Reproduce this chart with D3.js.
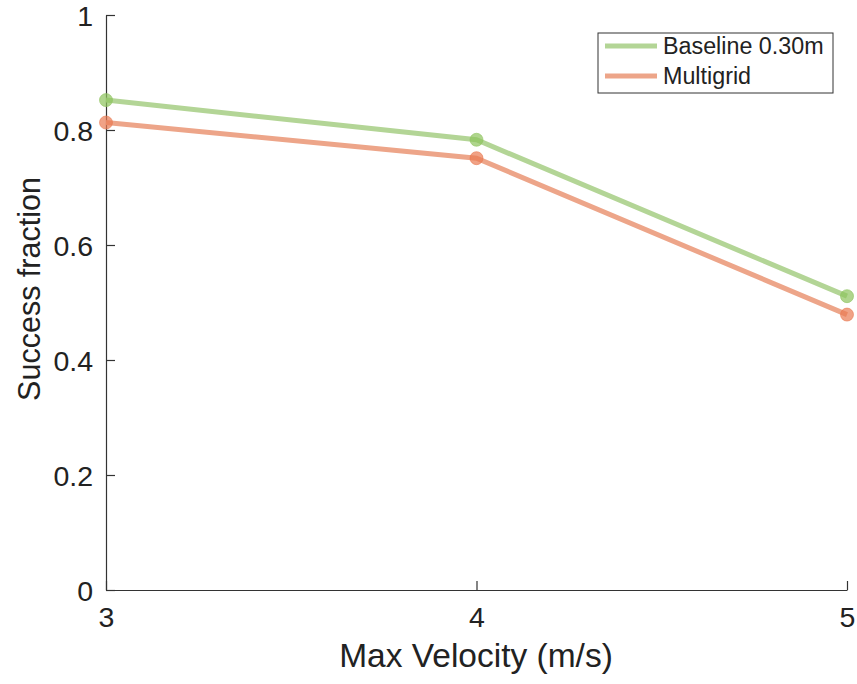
<!DOCTYPE html>
<html>
<head>
<meta charset="utf-8">
<script src="https://cdn.jsdelivr.net/npm/d3@7"></script>
<style>
  body { margin: 0; background: #fff; }
  svg text { font-family: "Liberation Sans", Helvetica, Arial, sans-serif; fill: #222; }
</style>
</head>
<body>
<svg id="chart" width="857" height="684"></svg>
<script>
// data
const velocities = [3, 4, 5];
const baseline = [0.852, 0.783, 0.511];
const multigrid = [0.813, 0.751, 0.479];
const xTicks = [3, 4, 5];
const yTicks = [0, 0.2, 0.4, 0.6, 0.8, 1];

const seriesNames = ["Baseline 0.30m", "Multigrid"];
const lineColors = ["#b3d596", "#eda589"];
const dotColors = ["#8dc35d", "#e97a52"];

const svg = d3.select("#chart");

const x = d3.scaleLinear().domain([3, 5]).range([106, 847]);
const y = d3.scaleLinear().domain([0, 1]).range([590, 15]);

// axes (ticks point inward like matlab)
const xAxis = d3.axisBottom(x).tickValues(xTicks).tickFormat(d3.format("d")).tickSizeInner(-9).tickSizeOuter(0).tickPadding(17);
const yAxis = d3.axisLeft(y).tickValues(yTicks).tickFormat(function(d){ return d == 0 || d == 1 ? d : d.toFixed(1) }).tickSizeInner(-9).tickSizeOuter(0).tickPadding(13);

const gx = svg.append("g").attr("transform", "translate(0,590)").call(xAxis);
const gy = svg.append("g").attr("transform", "translate(106,0)").call(yAxis);

[gx, gy].forEach(function(g){
    g.selectAll("path, line").attr("stroke", "#333").attr("stroke-width", 1.2);
    g.selectAll("text").style("font-size", "28.5px").attr("fill", "#222");
});
gx.selectAll("text").attr("dy", "0.71em");
gy.selectAll("text").attr("dy", "0.36em");

// axis labels
svg.append("text")
    .attr("x", 476)
    .attr("y", 667)
    .attr("text-anchor", "middle")
    .style("font-size", "33.5px")
    .text("Max Velocity (m/s)");

svg.append("text")
    .attr("transform", "translate(40,289) rotate(-90)")
    .attr("text-anchor", "middle")
    .style("font-size", "30.5px")
    .text("Success fraction");

// lines and dots
const line = d3.line()
    .x(function(d, i){ return x(velocities[i]) })
    .y(function(d){ return y(d) });

[baseline, multigrid].forEach(function(vals, s){
    svg.append("path")
        .datum(vals)
        .attr("d", line)
        .attr("fill", "none")
        .attr("stroke", lineColors[s])
        .attr("stroke-width", 5);

    svg.selectAll("circle.s" + s)
        .data(vals)
        .enter()
        .append("circle")
        .attr("class", "s" + s)
        .attr("cx", function(d, i){ return x(velocities[i]) })
        .attr("cy", function(d){ return y(d) })
        .attr("r", 6.5)
        .attr("fill", dotColors[s])
        .attr("fill-opacity", 0.7)
        .attr("stroke", dotColors[s])
        .attr("stroke-opacity", 0.6)
        .attr("stroke-width", 1);
});

// legend
const legend = svg.append("g").attr("transform", "translate(598,33)");
legend.append("rect")
    .attr("width", 235)
    .attr("height", 60)
    .attr("fill", "#fff")
    .attr("stroke", "#333")
    .attr("stroke-width", 1);

const items = legend.selectAll("g.item")
    .data(seriesNames)
    .enter()
    .append("g")
    .attr("class", "item")
    .attr("transform", function(d, i){ return "translate(0," + (13 + i * 30) + ")" });

items.append("line")
    .attr("x1", 7).attr("x2", 59)
    .attr("stroke", function(d, i){ return lineColors[i] })
    .attr("stroke-width", 5);

items.append("text")
    .attr("x", 65)
    .attr("dy", "0.36em")
    .style("font-size", "23.3px")
    .text(function(d){ return d });
</script>
</body>
</html>
